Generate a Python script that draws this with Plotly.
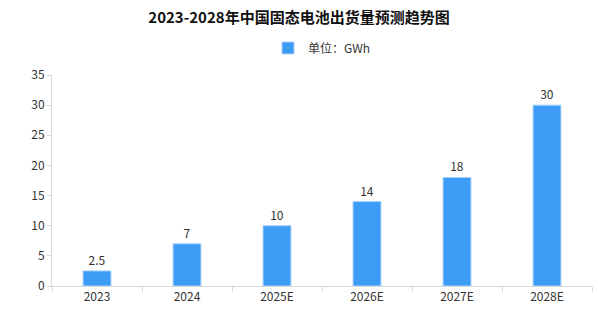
import plotly.graph_objects as go

categories = ["2023", "2024", "2025E", "2026E", "2027E", "2028E"]
values = [2.5, 7, 10, 14, 18, 30]
labels = ["2.5", "7", "10", "14", "18", "30"]
tick_vals = [0, 5, 10, 15, 20, 25, 30, 35]

font_family = "Noto Sans CJK SC, sans-serif"

fig = go.Figure()
fig.add_trace(go.Bar(
    x=categories, y=values, name="单位：GWh",
    marker=dict(color="#3d9cf5", line=dict(color="#a8d0f8", width=1)),
    text=labels, textposition="outside", cliponaxis=False,
    textfont=dict(size=12, color="#333333", family=font_family),
    width=0.31,
))
fig.update_layout(
    width=598, height=316,
    margin=dict(l=52, r=6, t=75, b=30),
    paper_bgcolor="white", plot_bgcolor="white",
    title=dict(text="<b>2023-2028年中国固态电池出货量预测趋势图</b>", x=0.5, xanchor="center",
               y=0.943, yanchor="middle",
               font=dict(size=15, color="#111111", family=font_family)),
    showlegend=True,
    legend=dict(orientation="h", x=0.5, xanchor="center", y=1.128, yanchor="middle",
                font=dict(size=12, color="#333333", family=font_family),
                itemwidth=30),
    font=dict(family=font_family),
)
fig.update_xaxes(
    showline=True, linecolor="#d9d9d9", linewidth=1,
    ticks="outside", tickcolor="#d9d9d9", ticklen=5, tickson="boundaries",
    tickfont=dict(size=12, color="#333333"), showgrid=False,
)
fig.update_yaxes(
    range=[0, 35], tickvals=tick_vals,
    showline=True, linecolor="#d9d9d9", linewidth=1,
    ticks="outside", tickcolor="#d9d9d9", ticklen=4,
    tickfont=dict(size=12, color="#333333"), showgrid=False, zeroline=False,
)
fig.write_html("out.html")
